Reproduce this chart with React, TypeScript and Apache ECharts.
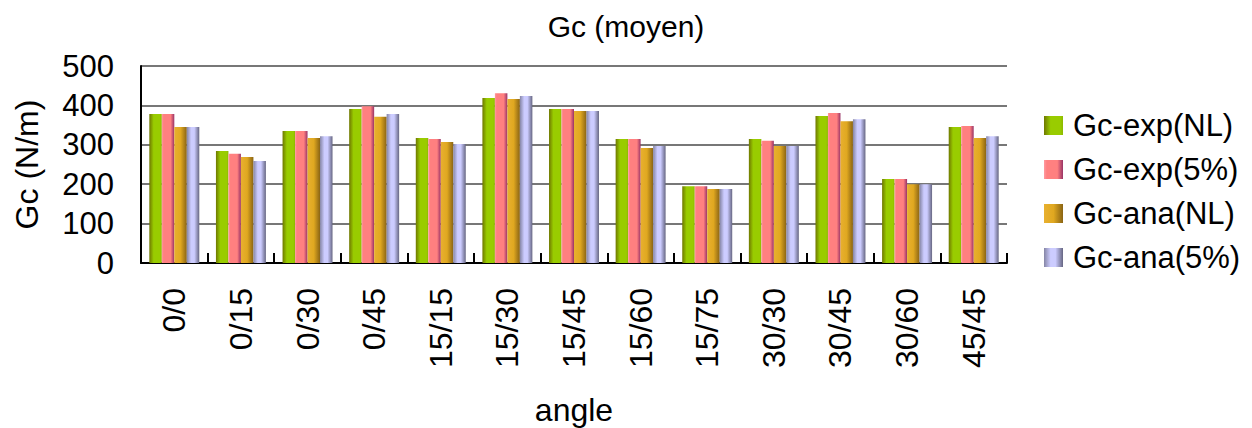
import React, { useEffect, useRef } from "react";
import * as echarts from "echarts";

const categories = ["0/0", "0/15", "0/30", "0/45", "15/15", "15/30", "15/45", "15/60", "15/75", "30/30", "30/45", "30/60", "45/45"];
const gcExpNL = [378, 284, 335, 391, 317, 419, 391, 315, 195, 315, 373, 213, 345];
const gcExp5 = [378, 277, 335, 398, 315, 431, 391, 315, 195, 310, 381, 213, 348];
const gcAnaNL = [345, 269, 317, 371, 307, 416, 386, 292, 188, 297, 360, 200, 317];
const gcAna5 = [345, 259, 322, 378, 302, 424, 386, 297, 188, 297, 365, 200, 322];
const seriesNames = ["Gc-exp(NL)", "Gc-exp(5%)", "Gc-ana(NL)", "Gc-ana(5%)"];
const yTicks = { min: 0, max: 500, interval: 100 };

const FONT = "'Liberation Sans', Arial, sans-serif";

const grad = (stops: [number, string][]) =>
  new echarts.graphic.LinearGradient(0, 0, 1, 0, stops.map(([offset, color]) => ({ offset, color })));

const colors = [
  grad([[0, "#6f7800"], [0.35, "#99cc00"], [0.85, "#99cc00"], [1, "#8cb800"]]),
  grad([[0, "#ff9aa0"], [0.15, "#ff8080"], [0.7, "#ff8080"], [1, "#993366"]]),
  grad([[0, "#e8b030"], [0.5, "#e0a820"], [1, "#8a6414"]]),
  grad([[0, "#8585a5"], [0.35, "#ccccff"], [0.6, "#ccccff"], [1, "#666682"]]),
];

export default function App() {
  const ref = useRef<HTMLDivElement>(null);
  useEffect(() => {
    document.body.style.margin = "0";
    if (!ref.current) return;
    const chart = echarts.init(ref.current, undefined, { renderer: "svg" });
    const data = [gcExpNL, gcExp5, gcAnaNL, gcAna5];
    chart.setOption({
      animation: false,
      backgroundColor: "#ffffff",
      title: {
        text: "Gc (moyen)",
        left: "center",
        top: 6,
        textStyle: { fontFamily: FONT, fontSize: 30, fontWeight: "normal", color: "#000" },
      },
      legend: {
        orient: "vertical",
        left: 1039,
        top: 105,
        itemWidth: 19,
        itemHeight: 19,
        itemGap: 13,
        icon: "rect",
        data: seriesNames,
        textStyle: { fontFamily: FONT, fontSize: 31, color: "#000", padding: [0, 0, 0, 5] },
      },
      grid: { left: 141, right: 245, top: 66, bottom: 165, containLabel: false },
      xAxis: {
        type: "category",
        data: categories,
        name: "angle",
        nameLocation: "middle",
        nameGap: 131,
        nameTextStyle: { fontFamily: FONT, fontSize: 32, color: "#000" },
        axisLine: { show: true, lineStyle: { color: "#000", width: 2 } },
        axisTick: { show: true, inside: true, length: 10, lineStyle: { color: "#000", width: 2 } },
        axisLabel: { rotate: 90, margin: 25, fontFamily: FONT, fontSize: 32, color: "#000", interval: 0 },
      },
      yAxis: {
        type: "value",
        min: yTicks.min,
        max: yTicks.max,
        interval: yTicks.interval,
        name: "Gc (N/m)",
        nameLocation: "middle",
        nameRotate: 90,
        nameGap: 98,
        nameTextStyle: { fontFamily: FONT, fontSize: 32, color: "#000" },
        axisLine: { show: true, lineStyle: { color: "#000", width: 2 } },
        axisTick: { show: false },
        axisLabel: { margin: 27, fontFamily: FONT, fontSize: 31, color: "#000" },
        splitLine: { show: true, lineStyle: { color: "#4a4a4a", width: 1.5 } },
      },
      series: seriesNames.map((name, i) => ({
        name,
        type: "bar",
        data: data[i],
        barGap: "0%",
        barCategoryGap: "25%",
        itemStyle: { color: colors[i] },
      })),
    });
    return () => chart.dispose();
  }, []);
  return <div ref={ref} style={{ width: 1252, height: 428 }} />;
}
